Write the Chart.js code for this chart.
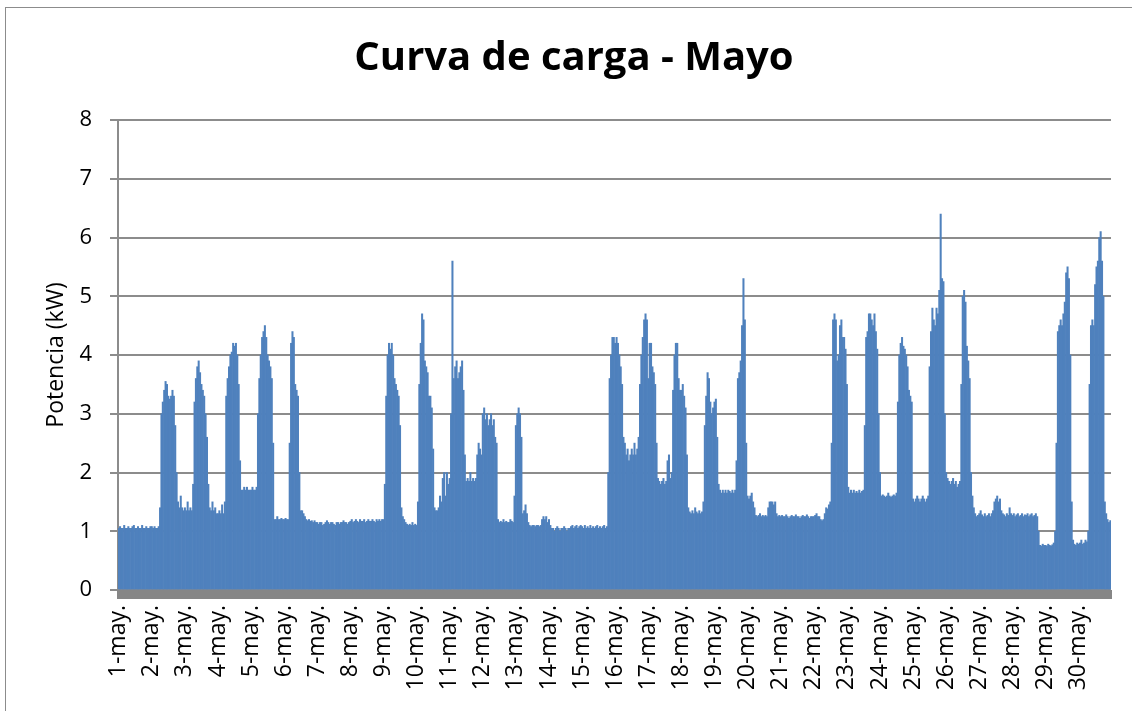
<!DOCTYPE html>
<html>
<head>
<meta charset="utf-8">
<title>Curva de carga - Mayo</title>
<script src="https://cdn.jsdelivr.net/npm/chart.js@4.4.1/dist/chart.umd.min.js"></script>
<style>
  html, body { margin:0; padding:0; background:#fff; overflow:hidden; }
  #marco { position:absolute; left:5px; top:7px; width:1200px; height:800px; border:1px solid #8c8c8c; }
  #caja { position:absolute; left:0; top:0; width:1132px; height:711px; }
</style>
</head>
<body>
<div id="marco"></div>
<div id="caja"><canvas id="grafico"></canvas></div>
<script>
// etiquetas de dia (eje X)
const dias = ['1-may.','2-may.','3-may.','4-may.','5-may.','6-may.','7-may.','8-may.','9-may.','10-may.',
  '11-may.','12-may.','13-may.','14-may.','15-may.','16-may.','17-may.','18-may.','19-may.','20-may.',
  '21-may.','22-may.','23-may.','24-may.','25-may.','26-may.','27-may.','28-may.','29-may.','30-may.'];

// potencia horaria (kW), una fila de 24 horas por dia
const carga = [
  [1.05,1.08,1.05,1.05,1.1,1.05,1.05,1.08,1.05,1.05,1.08,1.1,1.05,1.05,1.08,1.05,1.05,1.1,1.05,1.05,1.08,1.05,1.05,1.08],
  [1.08,1.05,1.08,1.05,1.05,1.08,1.4,3.0,3.2,3.4,3.55,3.5,3.3,3.25,3.3,3.4,3.3,2.8,2.0,1.5,1.4,1.6,1.4,1.35],
  [1.4,1.35,1.5,1.35,1.4,1.35,1.8,3.2,3.6,3.8,3.9,3.7,3.5,3.4,3.3,3.0,2.6,1.8,1.4,1.35,1.5,1.35,1.4,1.3],
  [1.3,1.35,1.3,1.45,1.3,1.5,3.3,3.6,3.8,4.0,4.05,4.2,4.15,4.2,4.0,3.5,2.2,1.7,1.7,1.75,1.7,1.75,1.7,1.7],
  [1.7,1.75,1.7,1.7,1.75,3.0,3.6,4.0,4.3,4.4,4.5,4.3,4.0,3.9,3.8,3.6,2.5,1.2,1.2,1.25,1.2,1.2,1.22,1.2],
  [1.2,1.22,1.2,1.2,2.5,4.2,4.4,4.3,3.5,3.4,3.3,2.0,1.35,1.35,1.3,1.25,1.2,1.18,1.2,1.17,1.18,1.15,1.18,1.15],
  [1.15,1.12,1.15,1.15,1.1,1.12,1.15,1.18,1.15,1.12,1.15,1.15,1.12,1.1,1.15,1.15,1.12,1.15,1.15,1.18,1.15,1.15,1.12,1.15],
  [1.17,1.2,1.15,1.17,1.2,1.17,1.15,1.2,1.17,1.17,1.2,1.15,1.17,1.2,1.17,1.17,1.2,1.17,1.15,1.2,1.17,1.2,1.17,1.2],
  [1.2,1.8,3.3,4.0,4.2,4.1,4.2,4.0,3.6,3.5,3.4,3.3,2.8,1.4,1.25,1.2,1.15,1.12,1.1,1.12,1.1,1.15,1.1,1.12],
  [1.1,1.5,3.5,4.2,4.7,4.6,3.9,3.8,3.7,3.3,3.3,3.1,2.4,1.4,1.35,1.35,1.4,1.6,1.5,1.9,2.0,1.6,2.0,1.8],
  [1.9,3.0,5.6,3.6,3.8,3.9,3.6,3.7,3.8,3.9,3.4,2.3,1.85,1.9,1.85,2.0,1.85,1.9,1.85,1.9,2.3,2.5,2.4,2.3],
  [3.0,3.1,2.9,3.0,2.8,2.9,3.0,2.8,2.9,2.6,2.5,1.2,1.15,1.17,1.15,1.2,1.15,1.17,1.15,1.15,1.2,1.17,1.15,1.6],
  [2.8,3.0,3.1,3.0,2.6,1.3,1.35,1.45,1.3,1.15,1.1,1.08,1.1,1.1,1.08,1.1,1.1,1.08,1.1,1.2,1.25,1.2,1.25,1.15],
  [1.2,1.1,1.05,1.05,1.0,1.05,1.08,1.05,1.0,1.05,1.05,1.08,1.05,1.0,1.05,1.05,1.08,1.1,1.05,1.08,1.1,1.05,1.08,1.1],
  [1.08,1.05,1.1,1.05,1.08,1.05,1.1,1.05,1.08,1.05,1.08,1.1,1.05,1.08,1.05,1.08,1.1,1.05,1.08,2.0,3.6,4.0,4.3,4.3],
  [4.2,4.3,4.2,4.0,3.8,3.5,2.6,2.5,2.3,2.4,2.2,2.3,2.4,2.3,2.5,2.3,2.4,2.6,3.5,4.0,4.3,4.6,4.7,4.6],
  [3.6,4.2,4.2,3.8,3.7,3.5,2.5,1.9,1.85,1.8,1.85,1.9,1.8,1.85,2.2,2.3,1.9,2.0,3.4,4.0,4.2,4.2,3.6,3.4],
  [3.4,3.5,3.3,3.1,2.3,1.4,1.33,1.3,1.35,1.3,1.4,1.33,1.3,1.35,1.3,1.33,1.5,2.8,3.3,3.7,3.6,3.2,3.0,3.1],
  [3.2,3.25,2.6,1.8,1.7,1.65,1.7,1.65,1.7,1.65,1.7,1.68,1.65,1.7,1.65,1.7,2.2,3.6,3.7,3.9,4.5,5.3,4.6,2.5],
  [1.6,1.55,1.6,1.65,1.5,1.4,1.27,1.25,1.27,1.3,1.25,1.27,1.25,1.27,1.25,1.4,1.5,1.5,1.5,1.45,1.5,1.3,1.25,1.27],
  [1.25,1.27,1.25,1.25,1.28,1.25,1.22,1.25,1.27,1.25,1.25,1.28,1.25,1.25,1.22,1.25,1.27,1.25,1.25,1.28,1.25,1.22,1.25,1.25],
  [1.25,1.27,1.3,1.25,1.25,1.2,1.18,1.2,1.3,1.4,1.38,1.45,1.5,2.5,4.6,4.7,4.6,3.9,4.0,4.5,4.6,4.3,4.3,4.1],
  [3.5,1.75,1.65,1.7,1.65,1.7,1.65,1.68,1.65,1.7,1.65,1.68,1.7,2.8,4.3,4.4,4.7,4.7,4.6,4.5,4.7,4.4,4.1,3.0],
  [2.0,1.6,1.62,1.6,1.58,1.6,1.65,1.6,1.58,1.6,1.62,1.6,1.65,3.2,4.0,4.2,4.3,4.15,4.1,4.0,3.8,3.4,3.3,3.2],
  [1.55,1.5,1.55,1.6,1.55,1.5,1.55,1.6,1.55,1.5,1.55,1.6,3.8,4.4,4.8,4.6,4.5,4.8,4.7,5.1,6.4,5.3,5.25,3.0],
  [2.0,1.9,1.85,1.8,1.85,1.9,1.8,1.85,1.75,1.8,1.85,3.5,5.0,5.1,4.9,4.15,3.9,3.6,2.0,1.6,1.4,1.3,1.25,1.27],
  [1.3,1.35,1.28,1.25,1.3,1.25,1.27,1.3,1.25,1.3,1.35,1.5,1.55,1.6,1.5,1.55,1.35,1.3,1.28,1.25,1.3,1.27,1.4,1.3],
  [1.27,1.3,1.25,1.28,1.3,1.25,1.27,1.3,1.25,1.28,1.27,1.3,1.25,1.28,1.3,1.25,1.27,1.3,1.25,1.0,0.76,0.75,0.78,0.76],
  [0.76,0.75,0.78,0.76,0.75,0.77,0.8,1.0,2.5,4.4,4.5,4.6,4.5,4.7,4.9,5.4,5.5,5.3,4.0,1.5,0.85,0.78,0.76,0.8],
  [0.78,0.8,0.85,0.78,0.8,0.85,0.82,1.0,3.5,4.5,4.6,4.5,5.2,5.5,5.6,6.0,6.1,5.6,5.0,1.5,1.3,1.2,1.15,1.18]
];

const yMax = 8;

// una categoria por hora
var etiquetas = [];
var valores = [];
for (var d = 0; d < dias.length; d++) {
  for (var h = 0; h < 24; h++) {
    etiquetas.push(dias[d] + ' ' + h + ':00');
    valores.push(carga[d][h]);
  }
}

// banda gris gruesa bajo el eje X, como en Excel
const bandaEje = {
  id: 'bandaEje',
  afterDatasetsDraw(chart) {
    const ctx = chart.ctx, a = chart.chartArea;
    ctx.save();
    ctx.fillStyle = '#868686';
    ctx.fillRect(a.left - 1, a.bottom, a.right - a.left + 2, 9);
    ctx.restore();
  }
};

Chart.defaults.font.family = '"Open Sans"';
Chart.defaults.color = '#000';

new Chart(document.getElementById('grafico'), {
  type: 'bar',
  data: {
    labels: etiquetas,
    datasets: [{
      label: 'Potencia (kW)',
      data: valores,
      backgroundColor: '#4F81BD',
      borderWidth: 0,
      barPercentage: 1,
      categoryPercentage: 1
    }]
  },
  options: {
    responsive: true,
    maintainAspectRatio: false,
    animation: false,
    layout: { padding: { left: 37, right: 21, top: 0, bottom: 0 } },
    plugins: {
      legend: { display: false },
      tooltip: { enabled: false },
      title: {
        display: true,
        text: 'Curva de carga - Mayo',
        color: '#000',
        font: { size: 40, weight: 'bold' },
        padding: { top: 35, bottom: 37 }
      }
    },
    scales: {
      x: {
        grid: { display: false, drawTicks: false },
        border: { display: false },
        ticks: {
          autoSkip: false,
          maxRotation: 90,
          minRotation: 90,
          padding: 15,
          font: { size: 23 },
          callback: function (v, i) { return i % 24 === 0 ? dias[i / 24] : null; }
        },
        afterFit: function (s) { s.height = 121; }
      },
      y: {
        min: 0,
        max: yMax,
        ticks: { stepSize: 1, padding: 18, font: { size: 22 } },
        grid: { color: '#8c8c8c', lineWidth: 2, tickLength: 8 },
        border: { color: '#8c8c8c', width: 2 },
        title: { display: true, text: 'Potencia (kW)', font: { size: 23 }, padding: { top: 6, bottom: 0 } },
        afterFit: function (s) { s.width = 81; }
      }
    }
  },
  plugins: [bandaEje]
});
</script>
</body>
</html>
